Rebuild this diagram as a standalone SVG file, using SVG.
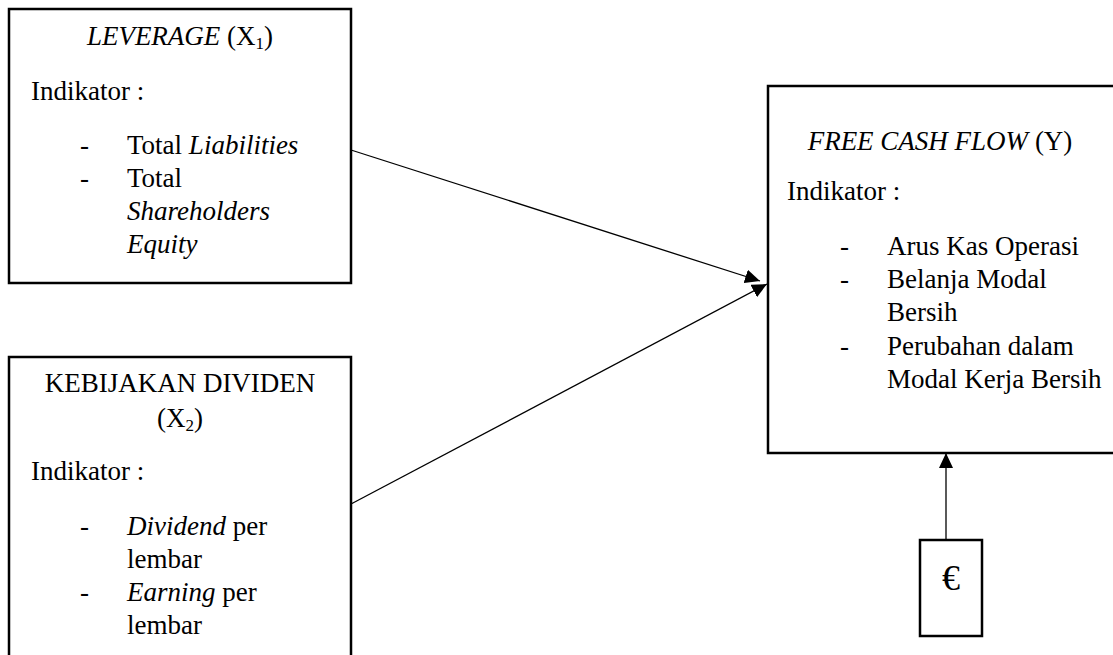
<svg xmlns="http://www.w3.org/2000/svg" width="1113" height="655" viewBox="0 0 1113 655">
<style>
.box{fill:#fff;stroke:#000;stroke-width:2.5}
.t{font-family:"Liberation Serif","Times New Roman",serif;font-size:27px;fill:#000}
.c{text-anchor:middle}
.i{font-style:italic}
.sub{font-size:17px}
.euro{font-size:36px}
.conn{stroke:#000;stroke-width:1.3;fill:none}
</style>
<defs>
<marker id="ah" markerUnits="userSpaceOnUse" markerWidth="16" markerHeight="14" refX="15" refY="7" orient="auto">
<path d="M0,0 L15,7 L0,14 z" fill="#000"/>
</marker>
</defs>
<rect width="1113" height="655" fill="#fff"/>
<g id="connectors">
<line class="conn" x1="351" y1="150" x2="760" y2="281" marker-end="url(#ah)"/>
<line class="conn" x1="351" y1="504" x2="767" y2="284" marker-end="url(#ah)"/>
<line class="conn" x1="946" y1="540" x2="946" y2="453" marker-end="url(#ah)"/>
</g>
<g id="leverage">
<rect class="box" x="9" y="9" width="342" height="274"/>
<text class="t c" x="180" y="45"><tspan class="i">LEVERAGE</tspan> (X<tspan class="sub" dy="4">1</tspan><tspan dy="-4">)</tspan></text>
<text class="t" x="31" y="100">Indikator :</text>
<text class="t" x="80" y="154">-</text>
<text class="t" x="127" y="154">Total <tspan class="i">Liabilities</tspan></text>
<text class="t" x="80" y="187">-</text>
<text class="t" x="127" y="187">Total</text>
<text class="t i" x="127" y="220">Shareholders</text>
<text class="t i" x="127" y="253">Equity</text>
</g>
<g id="dividen">
<rect class="box" x="9" y="357" width="342" height="310"/>
<text class="t c" x="180" y="392">KEBIJAKAN DIVIDEN</text>
<text class="t c" x="180" y="427">(X<tspan class="sub" dy="4">2</tspan><tspan dy="-4">)</tspan></text>
<text class="t" x="31" y="480">Indikator :</text>
<text class="t" x="80" y="535">-</text>
<text class="t" x="127" y="535"><tspan class="i">Dividend</tspan> per</text>
<text class="t" x="127" y="568">lembar</text>
<text class="t" x="80" y="601">-</text>
<text class="t" x="127" y="601"><tspan class="i">Earning</tspan> per</text>
<text class="t" x="127" y="634">lembar</text>
</g>
<g id="fcf">
<rect class="box" x="768" y="86" width="360" height="367"/>
<text class="t c" x="940" y="150"><tspan class="i">FREE CASH FLOW</tspan> (Y)</text>
<text class="t" x="787" y="200">Indikator :</text>
<text class="t" x="840" y="255">-</text>
<text class="t" x="887" y="255">Arus Kas Operasi</text>
<text class="t" x="840" y="288">-</text>
<text class="t" x="887" y="288">Belanja Modal</text>
<text class="t" x="887" y="321">Bersih</text>
<text class="t" x="840" y="355">-</text>
<text class="t" x="887" y="355">Perubahan dalam</text>
<text class="t" x="887" y="388">Modal Kerja Bersih</text>
</g>
<g id="error">
<rect class="box" x="920" y="540" width="62" height="96"/>
<text class="t c euro" x="951" y="590">€</text>
</g>
</svg>
